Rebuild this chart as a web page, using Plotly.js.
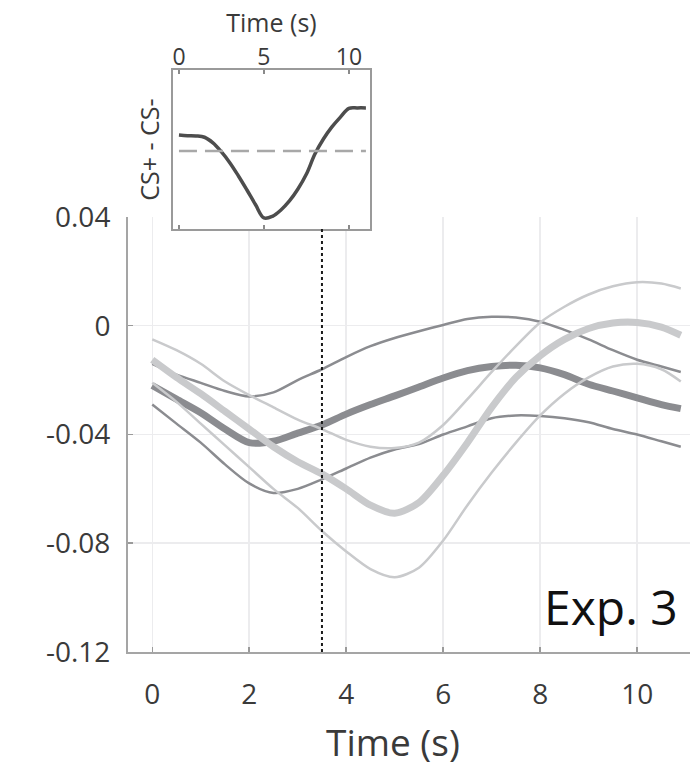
<!DOCTYPE html>
<html>
<head>
<meta charset="utf-8">
<script src="https://cdn.plot.ly/plotly-3.0.1.min.js"></script>
<style>html,body{margin:0;padding:0;background:#fff;}#chart{width:690px;height:767px;}</style>
</head>
<body>
<div id="chart"></div>
<script>
// ---- data ----
const time = [0,0.5,1,1.5,2,2.5,3,3.5,4,4.5,5,5.5,6,6.5,7,7.5,8,8.5,9,9.5,10,10.5,10.9];

const darkMean  = [-0.022,-0.027,-0.032,-0.038,-0.043,-0.0425,-0.0395,-0.0365,-0.0325,-0.029,-0.0258,-0.0225,-0.0192,-0.0165,-0.015,-0.0145,-0.0155,-0.018,-0.0215,-0.024,-0.0265,-0.029,-0.0305];
const darkUpper = [-0.014,-0.018,-0.021,-0.024,-0.026,-0.0245,-0.020,-0.016,-0.0115,-0.0075,-0.0045,-0.002,0.0003,0.0025,0.0033,0.003,0.0015,-0.0015,-0.005,-0.009,-0.0125,-0.015,-0.017];
const darkLower = [-0.029,-0.036,-0.043,-0.051,-0.058,-0.0615,-0.060,-0.0565,-0.0525,-0.0485,-0.0455,-0.0435,-0.040,-0.037,-0.034,-0.033,-0.0332,-0.034,-0.0355,-0.038,-0.040,-0.0425,-0.0445];

const lightMean  = [-0.0125,-0.019,-0.025,-0.0315,-0.038,-0.0445,-0.050,-0.0545,-0.060,-0.066,-0.069,-0.065,-0.055,-0.043,-0.030,-0.019,-0.011,-0.005,-0.001,0.001,0.0012,-0.0005,-0.0035];
const lightUpper = [-0.005,-0.009,-0.014,-0.0205,-0.0255,-0.030,-0.0345,-0.038,-0.042,-0.0445,-0.045,-0.043,-0.0365,-0.027,-0.017,-0.0075,0.0012,0.007,0.0115,0.0145,0.016,0.0155,0.0137];
const lightLower = [-0.021,-0.028,-0.036,-0.044,-0.052,-0.060,-0.067,-0.0755,-0.083,-0.0895,-0.0925,-0.089,-0.079,-0.066,-0.054,-0.043,-0.033,-0.025,-0.019,-0.015,-0.014,-0.016,-0.0205];

const insetTime = [0,0.5,1,1.5,2,2.5,3,3.5,4,4.5,5,5.5,6,6.5,7,7.5,8,8.5,9,9.5,10,10.5,11];
const insetDiff = [0.0099,0.0095,0.0093,0.0085,0.005,-0.0006,-0.0074,-0.0155,-0.0242,-0.0332,-0.0415,-0.0405,-0.0366,-0.031,-0.0236,-0.0143,-0.0019,0.0074,0.0149,0.021,0.0264,0.0267,0.0267];

const xTickVals = [0,2,4,6,8,10];
const xTickText = ['0','2','4','6','8','10'];
const yTickVals = [-0.12,-0.08,-0.04,0,0.04];
const yTickText = ['-0.12','-0.08','-0.04','0','0.04'];
const insetTickVals = [0,5,10];
const insetTickText = ['0','5','10'];
const markerTime = 3.5;
const panelLabel = 'Exp. 3';
const xTitle = 'Time (s)';
const insetYTitle = 'CS+ - CS-';

// ---- styles ----
const DARK = '#8b8c90';
const LIGHT = '#c9cacc';
const FONT = 'Open Sans, Noto Sans, sans-serif';

function line(y, color, width, name) {
  return {x: time, y: y, type: 'scatter', mode: 'lines', name: name,
          line: {color: color, width: width, shape: 'spline', smoothing: 0.8},
          xaxis: 'x', yaxis: 'y', hoverinfo: 'skip', showlegend: false};
}

const traces = [
  line(darkLower, DARK, 2.5, 'CS- lower'),
  line(darkUpper, DARK, 2.5, 'CS- upper'),
  line(darkMean, DARK, 7, 'CS- mean'),
  line(lightLower, LIGHT, 2.5, 'CS+ lower'),
  line(lightUpper, LIGHT, 2.5, 'CS+ upper'),
  line(lightMean, LIGHT, 7, 'CS+ mean'),
  {x: insetTime, y: insetDiff, type: 'scatter', mode: 'lines',
   line: {color: '#4d4d4d', width: 3.5, shape: 'spline', smoothing: 1},
   xaxis: 'x2', yaxis: 'y2', hoverinfo: 'skip', showlegend: false}
];

const insetBottom = 0.7145;

const layout = {
  width: 690, height: 767,
  margin: {l: 128, r: 0, t: 60, b: 115, pad: 0},
  paper_bgcolor: '#ffffff', plot_bgcolor: '#ffffff',
  font: {family: FONT, color: '#3a3a3a'},
  showlegend: false,
  xaxis: {
    domain: [0, 1], anchor: 'y', range: [-0.5, 11.09],
    tickmode: 'array', tickvals: xTickVals, ticktext: xTickText,
    ticks: 'inside', ticklen: 5, tickwidth: 1.5, tickcolor: '#9a9a9a',
    showline: true, linecolor: '#a5a5a5', linewidth: 2,
    showgrid: true, gridcolor: '#ececee', gridwidth: 1.5, zeroline: false,
    tickfont: {size: 28, color: '#3a3a3a', family: FONT},
    ticklabelstandoff: 16
  },
  yaxis: {
    domain: [0, 0.7348], anchor: 'x', range: [-0.12, 0.04],
    tickmode: 'array', tickvals: yTickVals, ticktext: yTickText,
    ticks: 'inside', ticklen: 5, tickwidth: 1.5, tickcolor: '#9a9a9a',
    showline: true, linecolor: '#a5a5a5', linewidth: 2,
    showgrid: true, gridcolor: '#ececee', gridwidth: 1.5, zeroline: false,
    tickfont: {size: 28, color: '#3a3a3a', family: FONT},
    ticklabelstandoff: 10
  },
  xaxis2: {
    domain: [0.0801, 0.4306], anchor: 'y2', side: 'top', range: [-0.35, 11.24],
    tickmode: 'array', tickvals: insetTickVals, ticktext: insetTickText,
    ticks: 'inside', ticklen: 4, tickwidth: 1.5, tickcolor: '#8a8a8a',
    showline: true, mirror: 'ticks', linecolor: '#9a9a9a', linewidth: 2,
    showgrid: false, zeroline: false,
    tickfont: {size: 23, color: '#3a3a3a', family: FONT},
    ticklabelstandoff: -6,
    title: {text: xTitle, font: {size: 25, color: '#3a3a3a', family: FONT}, standoff: 0}
  },
  yaxis2: {
    domain: [insetBottom, 0.9831], anchor: 'x2', range: [-0.0484, 0.0502],
    showline: true, mirror: true, linecolor: '#9a9a9a', linewidth: 2,
    ticks: '', showticklabels: false, showgrid: false, zeroline: false,
    title: {text: insetYTitle, font: {size: 25, color: '#3a3a3a', family: FONT}, standoff: 4}
  },
  shapes: [
    {type: 'line', xref: 'x2', yref: 'y2', x0: 0, x1: 11, y0: 0, y1: 0,
     line: {color: '#a8a8a8', width: 2.5, dash: '18px,8px'}},
    {type: 'line', xref: 'x', yref: 'paper', x0: markerTime, x1: markerTime, y0: 0, y1: insetBottom,
     layer: 'above', line: {color: '#1a1a1a', width: 2, dash: 'dot'}}
  ],
  annotations: [
    {text: panelLabel, xref: 'paper', yref: 'y', x: 0.982, y: -0.1034,
     xanchor: 'right', yanchor: 'middle', showarrow: false,
     font: {size: 48, color: '#111111', family: FONT}},
    {text: xTitle, xref: 'x', yref: 'paper', x: 4.96, y: -0.152,
     xanchor: 'center', yanchor: 'middle', showarrow: false,
     font: {size: 37, color: '#3a3a3a', family: FONT}}
  ]
};

Plotly.newPlot('chart', traces, layout, {displayModeBar: false, staticPlot: true});
</script>
</body>
</html>
